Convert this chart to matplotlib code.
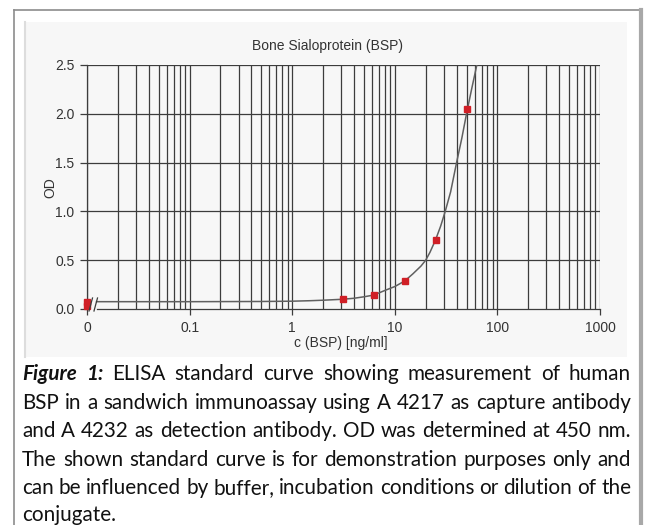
import matplotlib
matplotlib.use("Agg")
import matplotlib.pyplot as plt
from matplotlib.patches import Rectangle
from matplotlib.lines import Line2D
from matplotlib.ticker import LogLocator, NullFormatter

# --- data ---
std_conc = [3.125, 6.25, 12.5, 25, 50]          # ng/ml
std_od = [0.10, 0.143, 0.287, 0.71, 2.05]
blank_od = [0.03, 0.075]                          # the two points at c = 0

curve_conc = [0.0124, 0.1, 0.5, 1, 1.5, 2, 3.125, 4, 5, 6.25, 8, 10, 12.5,
              15, 18, 20, 22, 25, 28, 31, 35, 40, 45, 50, 56, 63]
curve_od = [0.075, 0.075, 0.077, 0.08, 0.085, 0.09, 0.10, 0.11, 0.125, 0.143,
            0.19, 0.23, 0.287, 0.36, 0.44, 0.50, 0.58, 0.71, 0.85, 1.0, 1.2,
            1.5, 1.75, 2.0, 2.25, 2.5]

xtick_pos = [0.01, 0.1, 1, 10, 100, 1000]
xtick_lab = ['0', '0.1', '1', '10', '100', '1000']
ytick_pos = [0.0, 0.5, 1.0, 1.5, 2.0, 2.5]

caption = [
    "Figure 1: ELISA standard curve showing measurement of human",
    "BSP in a sandwich immunoassay using A 4217 as capture antibody",
    "and A 4232 as detection antibody. OD was determined at 450 nm.",
    "The shown standard curve is for demonstration purposes only and",
    "can be influenced by bu" + "f" + "fer, incubation conditions or dilution of the",
    "conjugate.",
]
# make sure no typographic ligature characters slipped in
caption = [s.replace('\ufb00', 'ff').replace('\ufb01', 'fi').replace('\ufb02', 'fl')
           for s in caption]

W, H = 647, 525
def fx(px):
    return px / W
def fy(py):
    return 1 - py / H

plt.rcParams['font.family'] = ['Liberation Sans', 'DejaVu Sans']
fig = plt.figure(figsize=(W / 100, H / 100), dpi=100)
fig.patch.set_facecolor('white')

# outer frame and chart panel (behind the axes)
fig.add_artist(Line2D([fx(14), fx(14)], [fy(10), fy(530)], color='#8c8c8c', lw=1.2, zorder=-2))
fig.add_artist(Line2D([fx(14), fx(641)], [fy(10), fy(10)], color='#8c8c8c', lw=1.2, zorder=-2))
fig.add_artist(Line2D([fx(641), fx(641)], [fy(10), fy(530)], color='#a8a8a8', lw=3, zorder=-2))
fig.add_artist(Rectangle((fx(24), fy(357)), fx(627) - fx(24), fy(22) - fy(357),
                         facecolor='#f7f7f7', edgecolor='none', zorder=-2))
fig.add_artist(Line2D([fx(24.5), fx(24.5)], [fy(22), fy(357)], color='#dddddd', lw=1.5, zorder=-1))

ax = fig.add_axes([fx(87), fy(309), fx(600) - fx(87), fy(65) - fy(309)])
ax.patch.set_alpha(0)
ax.set_xscale('log')
ax.set_xlim(0.01, 1000)
ax.set_ylim(0, 2.5)

grid_c = '#3c3c3c'
ax.xaxis.set_minor_locator(LogLocator(base=10, subs=range(2, 10)))
ax.xaxis.set_minor_formatter(NullFormatter())
ax.set_xticks(xtick_pos, xtick_lab)
ax.set_yticks(ytick_pos, [f"{v:.1f}" for v in ytick_pos])
ax.grid(True, which='both', axis='x', color=grid_c, lw=0.9)
ax.grid(True, which='major', axis='y', color=grid_c, lw=0.9)
ax.get_ygridlines()[0].set_visible(False)

for s in ['top', 'right']:
    ax.spines[s].set_visible(False)
ax.spines['left'].set_color(grid_c)
ax.spines['left'].set_linewidth(0.9)
ax.spines['bottom'].set_color(grid_c)
ax.spines['bottom'].set_linewidth(0.9)
ax.spines['bottom'].set_bounds(0.0124, 1000)

ax.tick_params(axis='x', which='major', direction='out', length=4, width=0.9,
               color=grid_c, labelsize=10, labelcolor='#333333', pad=5)
ax.tick_params(axis='x', which='minor', length=0)
ax.tick_params(axis='y', direction='out', length=5, width=0.9, color=grid_c,
               labelsize=10, labelcolor='#333333', pad=4)

ax.plot(curve_conc, curve_od, color='#606060', lw=1.1, zorder=3)
ax.plot(std_conc, std_od, 's', color='#d01f26', ms=5, mec='#d01f26', zorder=4)
ax.plot([0.01] * len(blank_od), blank_od, 's', color='#d01f26', ms=5,
        mec='#d01f26', zorder=4, clip_on=False)

# axis break marks
for x0 in (89, 94):
    fig.add_artist(Line2D([fx(x0), fx(x0 + 3.5)], [fy(311), fy(298)], color=grid_c, lw=0.9))

fig.text(fx(328), fy(46), "Bone Sialoprotein (BSP)", ha='center', va='center',
         fontsize=10, color='#333333')
fig.text(fx(50), fy(188), "OD", ha='center', va='center', rotation=90,
         fontsize=10, color='#333333')
fig.text(fx(341), fy(343), "c (BSP) [ng/ml]", ha='center', va='center',
         fontsize=10, color='#333333')

# justified caption
cap_font = 'Lato'
left, right = 22, 631
baselines = [380, 408.6, 437.2, 465.8, 494.4, 521]
renderer = fig.canvas.get_renderer()

def text_width(s, size, **kw):
    t = fig.text(0, 0, s, fontsize=size, family=cap_font, **kw)
    w = t.get_window_extent(renderer).width
    t.remove()
    return w

# size chosen so the tightest line fills the column with normal spaces
cap_size = 15 * (right - left) / text_width(caption[4], 15)
space_w = text_width("a b", cap_size) - text_width("ab", cap_size)

for i, line in enumerate(caption):
    words = line.split(' ')
    if i == 0:
        pieces = [("Figure", dict(weight='bold', style='italic')),
                  ("1:", dict(weight='bold', style='italic'))]
        pieces += [(w, {}) for w in words[2:]]
    else:
        pieces = [(w, {}) for w in words]
    widths = [text_width(w, cap_size, **kw) for w, kw in pieces]
    if i < len(caption) - 1:
        gap = (right - left - sum(widths)) / (len(pieces) - 1)
    else:
        gap = space_w
    x = left
    for (w, kw), wd in zip(pieces, widths):
        fig.text(fx(x), fy(baselines[i]), w, fontsize=cap_size, family=cap_font,
                 ha='left', va='baseline', color='#111111', **kw)
        x += wd + gap

fig.savefig("out.png", dpi=100)
